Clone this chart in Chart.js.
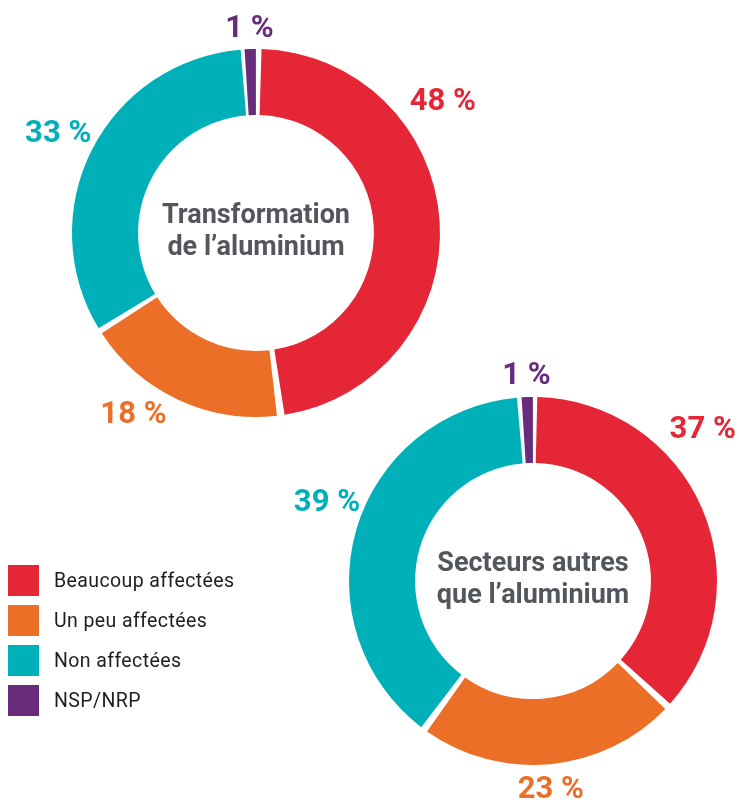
<!DOCTYPE html>
<html><head><meta charset="utf-8">
<script src="https://cdn.jsdelivr.net/npm/chart.js@4/dist/chart.umd.min.js"></script>
<style>
html,body{margin:0;padding:0;background:#fff;width:739px;height:804px;overflow:hidden;}
#wrap{position:relative;width:739px;height:804px;}
canvas{position:absolute;left:0;top:0;}
#legend{position:absolute;left:8px;top:565px;font-family:Roboto,sans-serif;font-size:19.5px;letter-spacing:0.4px;color:#1e1e1e;}
.item{display:flex;align-items:center;height:31px;margin-bottom:9px;}
.sw{width:31px;height:31px;margin-right:15px;flex:none;}
</style></head>
<body><div id="wrap"><canvas id="c1" width="739" height="804"></canvas><canvas id="c2" width="739" height="804"></canvas><div id="legend"></div></div>
<script>
// ---- data ----
const categories = ['Beaucoup affectées', 'Un peu affectées', 'Non affectées', 'NSP/NRP'];
const transformationValues = [48, 18, 33, 1];
const autresValues = [37, 23, 39, 1];
const transformationTitle = ['Transformation', 'de l\u2019aluminium'];
const autresTitle = ['Secteurs autres', 'que l\u2019aluminium'];
const colors = ['#E52637', '#EC6F28', '#00B0B9', '#672C7C'];

// ---- layout ----
const W = 739, H = 804, R = 184, GAP = 6;
function paddingFor(cx, cy) {
  const half = R;
  return { left: cx - half, right: W - (cx + half), top: cy - half, bottom: H - (cy + half) };
}

const sliceLabels = {
  id: 'sliceLabels',
  afterDatasetsDraw(chart, args, opts) {
    const ctx = chart.ctx;
    const meta = chart.getDatasetMeta(0);
    const data = chart.data.datasets[0].data;
    ctx.save();
    ctx.font = 'bold 31px Roboto';
    ctx.textAlign = 'center';
    ctx.textBaseline = 'middle';
    let cx = 0, cy = 0;
    meta.data.forEach((arc, i) => {
      const p = arc.getProps(['x', 'y', 'startAngle', 'endAngle', 'outerRadius'], true);
      cx = p.x; cy = p.y;
      const a = (p.startAngle + p.endAngle) / 2 + opts.shift[i] * Math.PI / 180;
      const d = p.outerRadius + opts.dist[i];
      ctx.fillStyle = colors[i];
      ctx.fillText(data[i] + ' %', p.x + Math.cos(a) * d, p.y + Math.sin(a) * d + 2);
    });
    ctx.font = 'bold 27px Roboto';
    ctx.fillStyle = '#53565C';
    ctx.textBaseline = 'alphabetic';
    ctx.fillText(opts.title[0], cx, cy - 10);
    ctx.fillText(opts.title[1], cx, cy + 22);
    ctx.restore();
  }
};

function makeChart(id, values, title, center, shift, dist) {
  return new Chart(document.getElementById(id), {
    type: 'doughnut',
    data: {
      labels: categories,
      datasets: [{ data: values, backgroundColor: colors, borderWidth: 0, spacing: GAP }]
    },
    options: {
      responsive: false,
      animation: false,
      cutout: '63.5%',
      layout: { padding: paddingFor(center[0], center[1]) },
      plugins: {
        legend: { display: false },
        tooltip: { enabled: false },
        sliceLabels: { title: title, shift: shift, dist: dist }
      }
    },
    plugins: [sliceLabels]
  });
}

makeChart('c1', transformationValues, transformationTitle, [256, 233], [-31.7, 9, 0, 0], [48, 37, 41, 25]);
makeChart('c2', autresValues, autresTitle, [533, 581], [-18.5, 0.5, 5, 0], [47, 27, 40, 26]);

const legend = document.getElementById('legend');
categories.forEach((c, i) => {
  const it = document.createElement('div');
  it.className = 'item';
  const sw = document.createElement('div');
  sw.className = 'sw';
  sw.style.background = colors[i];
  const tx = document.createElement('span');
  tx.textContent = c;
  it.appendChild(sw); it.appendChild(tx);
  legend.appendChild(it);
});
</script>
</body></html>
